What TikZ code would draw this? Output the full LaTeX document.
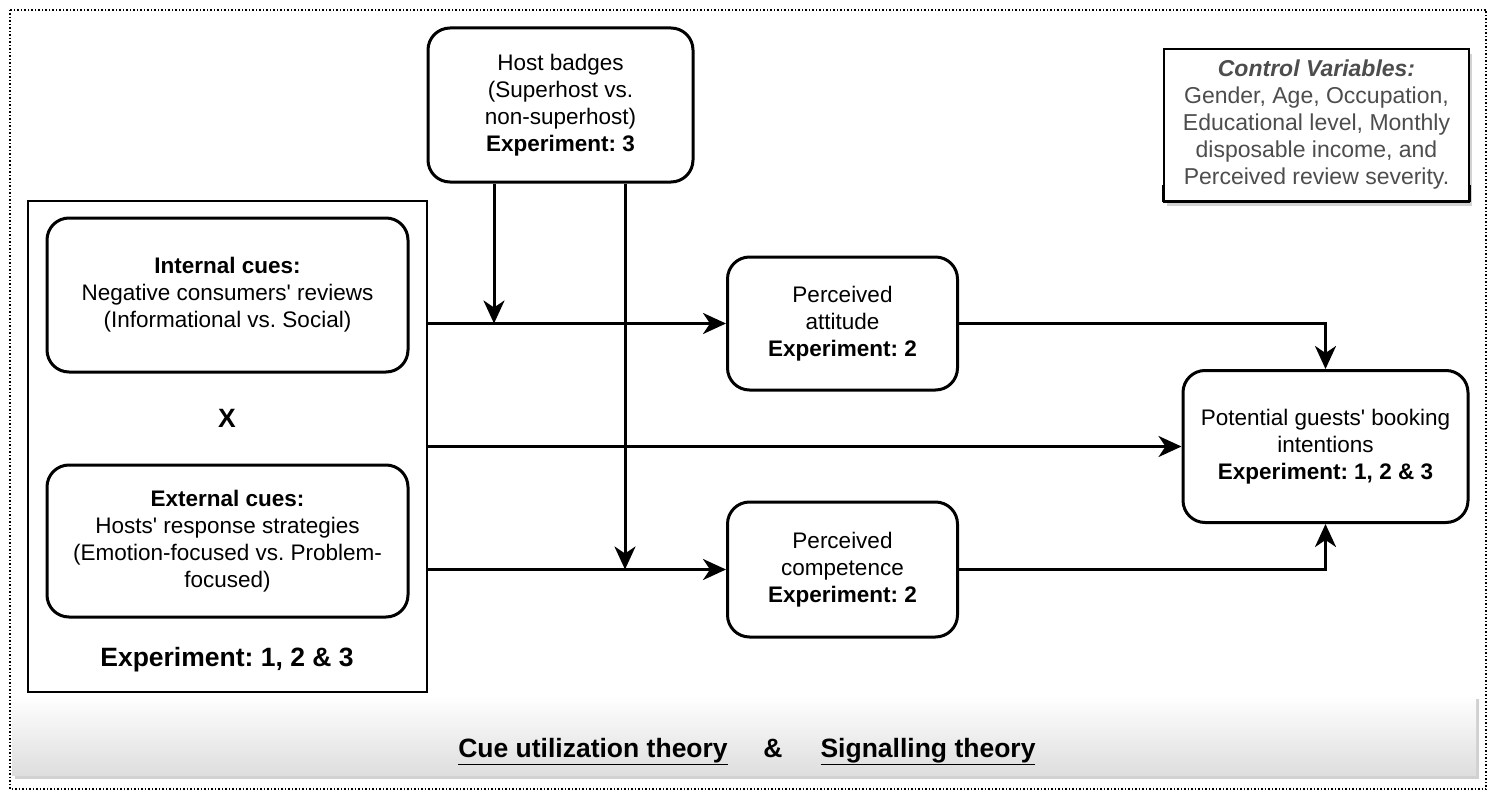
\documentclass[tikz,border=0pt]{standalone}
\usepackage{fontspec}
\setmainfont{Liberation Sans}
\usetikzlibrary{arrows.meta,shadows}
\definecolor{ctrlgray}{HTML}{4D4D4D}
\newcommand{\ap}{\textquotesingle}
\frenchspacing
\begin{document}
\begin{tikzpicture}[x=1pt,y=-1pt,
  box/.style={draw, line width=3pt, rounded corners=22pt, align=center,
    font=\fontsize{22.5}{27}\selectfont, inner sep=0pt, fill=white},
  arr/.style={line width=3pt, -{Stealth[length=23pt,width=21pt,inset=7pt]}},
  bigtxt/.style={font=\fontsize{26.5}{30}\selectfont\bfseries, inner sep=0pt}]
\useasboundingbox (0,0) rectangle (1494,797);
% outer dotted frame
\draw[dotted, line width=1.5pt] (10,10) rectangle (1486,789);
% bottom band
\path[drop shadow={shadow xshift=3pt,shadow yshift=-4pt,fill=black!30,opacity=0.6},
      top color=white, bottom color=black!13] (12,695) rectangle (1476,775);
\node[bigtxt, anchor=base] (cue) at (593,757) {\underline{Cue utilization theory}};
\node[bigtxt, anchor=base] (amp) at (773,757) {\&};
\node[bigtxt, anchor=base] (sig) at (928,757) {\underline{Signalling theory}};
% left big rectangle
\node[draw, line width=2pt, minimum width=399, minimum height=491, inner sep=0pt] (left) at (227.5,446.5) {};
% nodes
\node[box, minimum width=361, minimum height=154] (int) at (227.5,295)
  {\textbf{Internal cues:}\\Negative consumers\ap{} reviews\\(Informational vs. Social)};
\node[bigtxt] (x) at (227,418) {X};
\node[box, minimum width=361, minimum height=152] (ext) at (227.5,541)
  {\textbf{External cues:}\\Hosts\ap{} response strategies\\(Emotion-focused vs. Problem-\\focused)};
\node[bigtxt] (exp) at (227,660) {Experiment: 1, 2 \& 3};
\node[box, minimum width=265, minimum height=154] (host) at (560.5,105)
  {Host badges\\(Superhost vs.\\non-superhost)\\\textbf{Experiment: 3}};
\node[box, minimum width=230, minimum height=133] (att) at (842.5,323.5)
  {Perceived\\attitude\\\textbf{Experiment: 2}};
\node[box, minimum width=230, minimum height=135] (comp) at (842.5,569.5)
  {Perceived\\competence\\\textbf{Experiment: 2}};
\node[box, minimum width=285, minimum height=152] (pg) at (1325.5,446.5)
  {Potential guests\ap{} booking\\intentions\\\textbf{Experiment: 1, 2 \& 3}};
% control variables
\node[draw, line width=1.5pt, fill=white, minimum width=305, minimum height=152, inner sep=0pt,
      drop shadow={shadow xshift=3pt,shadow yshift=-5pt,fill=black!35,opacity=0.5},
      align=center, text=ctrlgray, font=\fontsize{23}{27}\selectfont] (ctrl) at (1316.5,125)
  {\textbf{\textit{Control Variables:}}\\Gender, Age, Occupation,\\Educational level, Monthly\\disposable income, and\\Perceived review severity.};
\draw[line width=3pt] (ctrl.south west) -- (ctrl.south east);
\draw[line width=2.5pt] (ctrl.south west) -- ([yshift=-60pt]ctrl.west);
\draw[line width=2.5pt] (ctrl.south east) -- ([yshift=-60pt]ctrl.east);
% connectors
\coordinate (l1) at (427,323.5);
\coordinate (l2) at (427,446.5);
\coordinate (l3) at (427,569.5);
\coordinate (m1) at (494,323.5);
\coordinate (m2) at (625,569.5);
\draw[arr] (l1) -- (att.west);
\draw[arr] (l2) -- (pg.west);
\draw[arr] (l3) -- (comp.west);
\draw[arr] (host.south -| m1) -- (m1);
\draw[arr] (host.south -| m2) -- (m2);
\draw[arr] (att.east) -| (pg.north);
\draw[arr] (comp.east) -| (pg.south);
\end{tikzpicture}
\end{document}
